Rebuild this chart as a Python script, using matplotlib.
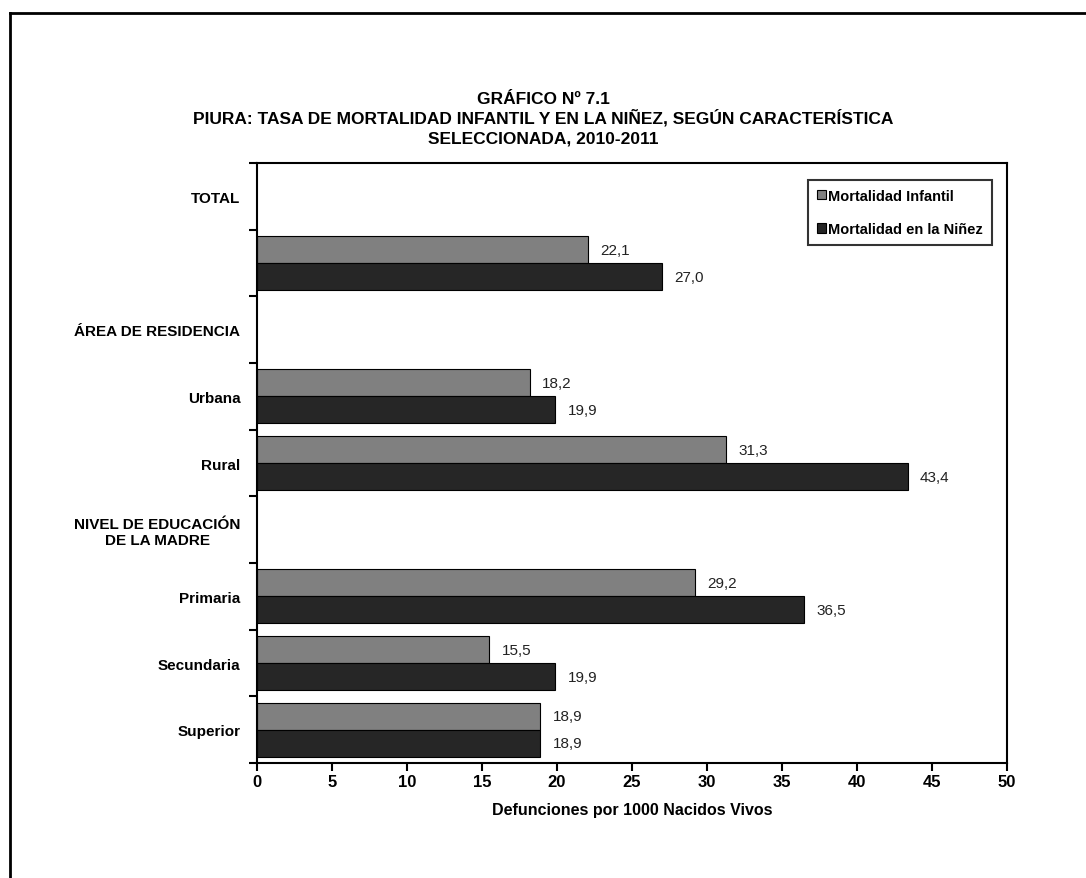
import numpy as np
import matplotlib
matplotlib.use("Agg")
import matplotlib.pyplot as plt
from matplotlib.lines import Line2D
from matplotlib.ticker import FixedLocator

NARROW = ["Liberation Sans Narrow", "Liberation Sans", "DejaVu Sans"]
ARIAL = ["Liberation Sans", "DejaVu Sans"]

title_lines = ["GRÁFICO Nº 7.1",
               "PIURA: TASA DE MORTALIDAD INFANTIL Y EN LA NIÑEZ, SEGÚN CARACTERÍSTICA",
               "SELECCIONADA, 2010-2011"]
categories = ["TOTAL", "", "ÁREA DE RESIDENCIA", "Urbana", "Rural",
              "NIVEL DE EDUCACIÓN\nDE LA MADRE", "Primaria", "Secundaria", "Superior"]
infantil = [np.nan, 22.1, np.nan, 18.2, 31.3, np.nan, 29.2, 15.5, 18.9]
ninez = [np.nan, 27.0, np.nan, 19.9, 43.4, np.nan, 36.5, 19.9, 18.9]
xticks = [0, 5, 10, 15, 20, 25, 30, 35, 40, 45, 50]

C_INF, C_NIN = "#808080", "#262626"

fig = plt.figure(figsize=(10.86, 8.79), dpi=100)
ax = fig.add_axes([0.2366, 0.1308, 0.6906, 0.6826])

y = np.arange(len(categories))
h = 0.405
ax.barh(y - h / 2, infantil, h, color=C_INF, edgecolor="black", lw=0.8, label="Mortalidad Infantil")
ax.barh(y + h / 2, ninez, h, color=C_NIN, edgecolor="black", lw=0.8, label="Mortalidad en la Niñez")

for yi, a, b in zip(y, infantil, ninez):
    if np.isnan(a):
        continue
    for v, off in ((a, -h / 2), (b, h / 2)):
        ax.annotate(f"{v:.1f}".replace(".", ","), xy=(v, yi + off), xytext=(12, 0),
                    textcoords="offset pixels", va="center", ha="left",
                    fontsize=11, family=ARIAL, color="#222")

ax.set_xlim(0, 50)
ax.set_ylim(len(categories) - 0.5, -0.5)
ax.set_xticks(xticks)
ax.set_xticklabels([str(t) for t in xticks], fontsize=12, fontweight="bold", family=NARROW)
ax.set_yticks(y)
ax.set_yticklabels(categories, fontsize=11, fontweight="bold", family=ARIAL, multialignment="center")
ax.yaxis.set_minor_locator(FixedLocator(np.arange(-0.5, len(categories), 1)))
ax.tick_params(axis="y", which="major", length=0, pad=12)
ax.tick_params(axis="y", which="minor", length=6, width=1.5, direction="out")
ax.tick_params(axis="x", length=6, width=1.5, direction="out", pad=2)
for s in ax.spines.values():
    s.set_linewidth(1.5)

ax.set_xlabel("Defunciones por 1000 Nacidos Vivos", fontsize=11.5, fontweight="bold",
              family=NARROW, labelpad=9)

leg = ax.legend(loc="upper right", bbox_to_anchor=(0.98, 0.972), borderaxespad=0, fancybox=False,
                edgecolor="black", prop={"family": ARIAL, "weight": "bold", "size": 10.5},
                handlelength=0.6, handleheight=0.6, handletextpad=0.2, labelspacing=1.35, borderpad=0.6)
leg.get_frame().set_linewidth(1.5)

# title, one line at a time on fixed baselines so the spacing stays even
for i, line in enumerate(title_lines):
    fig.text(0.5, 1 - (104 + 20 * i) / 879, line, ha="center", va="baseline", fontsize=12.5,
             fontweight="bold", family=NARROW)

# outer frame (only top and left edges fall inside the image)
fig.add_artist(Line2D([10 / 1086, 1.0], [1 - 14 / 879] * 2, transform=fig.transFigure, color="black", lw=2))
fig.add_artist(Line2D([10 / 1086] * 2, [0.0, 1 - 14 / 879], transform=fig.transFigure, color="black", lw=2))

fig.savefig("out.png", dpi=100)
